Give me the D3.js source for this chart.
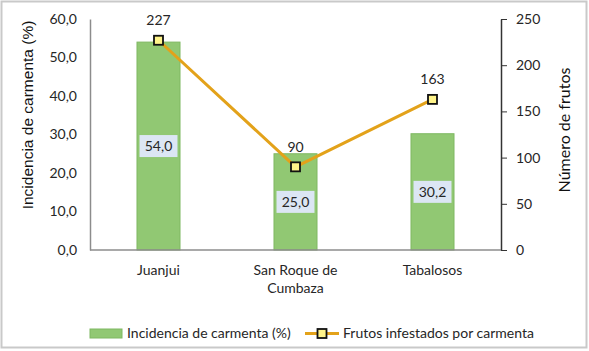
<!DOCTYPE html>
<html>
<head>
<meta charset="utf-8">
<script src="https://cdn.jsdelivr.net/npm/d3@7"></script>
<style>
  body { margin: 0; background: #fff; }
  svg { display: block; font-family: Lato, "Open Sans", sans-serif; }
</style>
</head>
<body>
<div id="chart"></div>
<script>
// chart data
const sites = ["Juanjui", "San Roque de Cumbaza", "Tabalosos"];
const incidencia = [54.0, 25.0, 30.2];
const frutos = [227, 90, 163];
const leftTicks = [0, 10, 20, 30, 40, 50, 60];
const rightTicks = [0, 50, 100, 150, 200, 250];

const width = 589;
const height = 351;
const margin = { top: 19, right: 88, bottom: 101, left: 90 };
const textColor = "#262626";

const svg = d3.select("#chart")
  .append("svg")
  .attr("width", width)
  .attr("height", height);

// outer frame
svg.append("rect")
  .attr("x", 1.5).attr("y", 1.5)
  .attr("width", 585).attr("height", 346)
  .attr("fill", "#fff")
  .attr("stroke", "#c9c9c9")
  .attr("stroke-width", 2);

const x = d3.scaleBand()
  .domain(sites)
  .range([margin.left, width - margin.right])
  .paddingInner(0.686)
  .paddingOuter(0.343);

const yL = d3.scaleLinear()
  .domain([0, 60])
  .range([height - margin.bottom, margin.top]);

const yR = d3.scaleLinear()
  .domain([0, 250])
  .range([height - margin.bottom, margin.top]);

const fmt = d => d.toFixed(1).replace(".", ",");

// bars
svg.append("g")
  .selectAll("rect")
  .data(sites)
  .join("rect")
  .attr("x", d => x(d))
  .attr("y", (d, i) => yL(incidencia[i]))
  .attr("width", x.bandwidth())
  .attr("height", (d, i) => yL(0) - yL(incidencia[i]))
  .attr("fill", "#91c873")
  .attr("stroke", "#7fb862")
  .attr("stroke-width", 1);

// left axis
const gL = svg.append("g")
  .attr("transform", `translate(${margin.left},0)`)
  .call(d3.axisLeft(yL).tickValues(leftTicks).tickFormat(fmt).tickSize(0).tickPadding(13));
gL.select(".domain").attr("stroke", "#8c8c8c").attr("stroke-width", 1.5);
gL.selectAll("text").style("font-size", "14px").attr("fill", textColor).style("font-family", "Lato");

// right axis
const gR = svg.append("g")
  .attr("transform", `translate(${width - margin.right},0)`)
  .call(d3.axisRight(yR).tickValues(rightTicks).tickSizeOuter(0).tickSizeInner(6).tickPadding(9));
gR.select(".domain").attr("stroke", "#333").attr("stroke-width", 1.5);
gR.selectAll("line").attr("stroke", "#333");
gR.selectAll("text").style("font-size", "14px").attr("fill", textColor).style("font-family", "Lato");

// bottom axis line
svg.append("line")
  .attr("x1", margin.left).attr("x2", width - margin.right)
  .attr("y1", yL(0)).attr("y2", yL(0))
  .attr("stroke", "#8c8c8c").attr("stroke-width", 1.5);

// category labels (wrapped like the original)
const catLines = { "San Roque de Cumbaza": ["San Roque de", "Cumbaza"] };
svg.append("g")
  .selectAll("text")
  .data(sites)
  .join("text")
  .attr("x", d => x(d) + x.bandwidth() / 2)
  .attr("y", yL(0) + 25)
  .attr("text-anchor", "middle")
  .style("font-size", "14px")
  .attr("fill", textColor)
  .each(function(d) {
    const lines = catLines[d] || [d];
    d3.select(this).selectAll("tspan")
      .data(lines)
      .join("tspan")
      .attr("x", x(d) + x.bandwidth() / 2)
      .attr("dy", (l, j) => j === 0 ? 0 : 18)
      .text(l => l);
  });

// bar value labels with boxes
const barLabels = svg.append("g")
  .selectAll("g")
  .data(sites)
  .join("g")
  .attr("transform", (d, i) => `translate(${x(d) + x.bandwidth() / 2},${(yL(incidencia[i]) + yL(0)) / 2})`);
barLabels.append("rect")
  .attr("x", -19).attr("y", -11)
  .attr("width", 38).attr("height", 22)
  .attr("fill", "#dce6f4");
barLabels.append("text")
  .attr("text-anchor", "middle")
  .attr("dy", "0.35em")
  .style("font-size", "14px")
  .attr("fill", textColor)
  .text((d, i) => fmt(incidencia[i]));

// line series
const line = d3.line()
  .x(d => x(d.site) + x.bandwidth() / 2)
  .y(d => yR(d.v));
const lineData = sites.map((s, i) => ({ site: s, v: frutos[i] }));

svg.append("path")
  .datum(lineData)
  .attr("d", line)
  .attr("fill", "none")
  .attr("stroke", "#e3a21a")
  .attr("stroke-width", 3);

svg.append("g")
  .selectAll("rect")
  .data(lineData)
  .join("rect")
  .attr("x", d => x(d.site) + x.bandwidth() / 2 - 4.5)
  .attr("y", d => yR(d.v) - 4.5)
  .attr("width", 9).attr("height", 9)
  .attr("fill", "#fff48a")
  .attr("stroke", "#111")
  .attr("stroke-width", 1.8);

svg.append("g")
  .selectAll("text")
  .data(lineData)
  .join("text")
  .attr("x", d => x(d.site) + x.bandwidth() / 2)
  .attr("y", d => yR(d.v) - 20)
  .attr("text-anchor", "middle")
  .attr("dy", "0.35em")
  .style("font-size", "14px")
  .attr("fill", textColor)
  .text(d => d.v);

// axis titles
svg.append("text")
  .attr("transform", "translate(33,115) rotate(-90)")
  .attr("text-anchor", "middle")
  .style("font-family", "'Liberation Sans', Arial, sans-serif")
  .style("font-size", "15.5px")
  .attr("fill", "#111")
  .text("Incidencia de carmenta (%)");

svg.append("text")
  .attr("transform", "translate(570,130) rotate(-90)")
  .attr("text-anchor", "middle")
  .style("font-size", "16px")
  .attr("fill", "#111")
  .text("Número de frutos");

// legend
const leg = svg.append("g");
leg.append("rect")
  .attr("x", 90).attr("y", 329)
  .attr("width", 32).attr("height", 9)
  .attr("fill", "#91c873").attr("stroke", "#7fb862");
leg.append("text")
  .attr("x", 127).attr("y", 333.5)
  .attr("dy", "0.35em")
  .style("font-size", "14px")
  .attr("fill", textColor)
  .text("Incidencia de carmenta (%)");
leg.append("line")
  .attr("x1", 305).attr("x2", 339)
  .attr("y1", 333.5).attr("y2", 333.5)
  .attr("stroke", "#e3a21a").attr("stroke-width", 3);
leg.append("rect")
  .attr("x", 317.5).attr("y", 329)
  .attr("width", 9).attr("height", 9)
  .attr("fill", "#fff48a").attr("stroke", "#111").attr("stroke-width", 1.8);
leg.append("text")
  .attr("x", 343).attr("y", 333.5)
  .attr("dy", "0.35em")
  .style("font-size", "14px")
  .attr("fill", textColor)
  .text("Frutos infestados por carmenta");
</script>
</body>
</html>
